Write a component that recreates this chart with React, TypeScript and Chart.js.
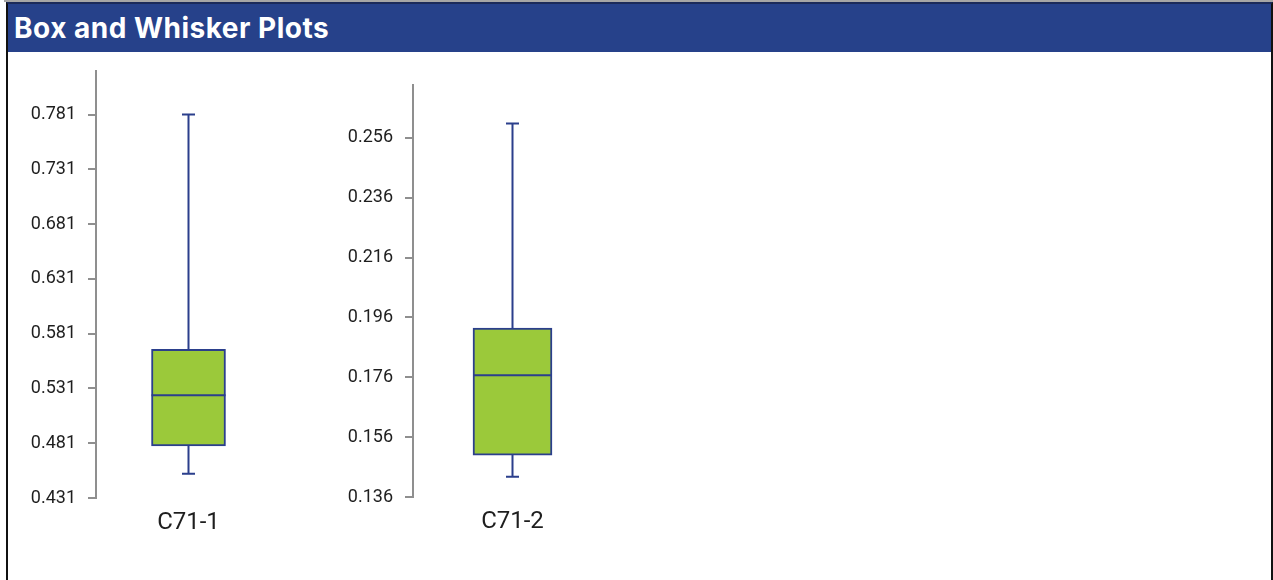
import React, { useEffect, useRef } from 'react';
import { Chart, registerables } from 'chart.js';

Chart.register(...registerables);
Chart.defaults.font.family = 'Roboto, "DejaVu Sans", sans-serif';

// ---- Data: plot 1 ----
const CATEGORIES_1 = ['C71-1'];
const MIN_1 = [0.4531];
const Q1_1 = [0.4786];
const MEDIAN_1 = [0.5248];
const Q3_1 = [0.5667];
const MAX_1 = [0.781];
const TICKS_1 = [0.431, 0.481, 0.531, 0.581, 0.631, 0.681, 0.731, 0.781];
const AXIS_MIN_1 = 0.431;
const AXIS_MAX_1 = 0.821;

// ---- Data: plot 2 ----
const CATEGORIES_2 = ['C71-2'];
const MIN_2 = [0.1428];
const Q1_2 = [0.15];
const MEDIAN_2 = [0.1767];
const Q3_2 = [0.1924];
const MAX_2 = [0.2608];
const TICKS_2 = [0.136, 0.156, 0.176, 0.196, 0.216, 0.236, 0.256];
const AXIS_MIN_2 = 0.136;
const AXIS_MAX_2 = 0.2737;

const TITLE = 'Box and Whisker Plots';

const NAVY = '#2b3f8c';
const GREEN = '#9bc93a';
const AXIS_GRAY = '#8f8f8f';
const TEXT = '#1e1e1e';

const whiskerPlugin = {
  id: 'whiskers',
  afterDatasetsDraw(chart: any, _args: any, opts: any) {
    const { ctx } = chart;
    const y = chart.scales.y;
    const meta = chart.getDatasetMeta(0);
    const s = opts.stats;
    ctx.save();
    ctx.strokeStyle = NAVY;
    ctx.lineWidth = 2;
    s.mins.forEach((mn: number, i: number) => {
      const bar = meta.data[i];
      const cx = bar.x;
      const half = bar.width / 2;
      const cap = 6.5;
      const yMax = y.getPixelForValue(s.maxs[i]);
      const yQ3 = y.getPixelForValue(s.q3s[i]);
      const yQ1 = y.getPixelForValue(s.q1s[i]);
      const yMin = y.getPixelForValue(mn);
      const yMed = y.getPixelForValue(s.medians[i]);
      ctx.beginPath();
      ctx.moveTo(cx, yMax);
      ctx.lineTo(cx, yQ3);
      ctx.moveTo(cx, yQ1);
      ctx.lineTo(cx, yMin);
      ctx.moveTo(cx - cap, yMax);
      ctx.lineTo(cx + cap, yMax);
      ctx.moveTo(cx - cap, yMin);
      ctx.lineTo(cx + cap, yMin);
      ctx.moveTo(cx - half, yMed);
      ctx.lineTo(cx + half, yMed);
      ctx.stroke();
    });
    ctx.restore();
  },
};

type BoxProps = {
  categories: string[];
  mins: number[];
  q1s: number[];
  medians: number[];
  q3s: number[];
  maxs: number[];
  ticks: number[];
  axisMin: number;
  axisMax: number;
  yAxisWidth: number;
  barThickness: number;
  left: number;
  top: number;
  width: number;
  height: number;
};

function BoxPlot(p: BoxProps) {
  const ref = useRef<HTMLCanvasElement | null>(null);
  useEffect(() => {
    if (!ref.current) return;
    const chart = new Chart(ref.current, {
      type: 'bar',
      data: {
        labels: p.categories,
        datasets: [
          {
            data: p.q1s.map((q, i) => [q, p.q3s[i]]) as any,
            backgroundColor: GREEN,
            borderColor: NAVY,
            borderWidth: 2,
            borderSkipped: false,
            barThickness: p.barThickness,
          },
        ],
      },
      options: {
        animation: false,
        responsive: false,
        maintainAspectRatio: false,
        devicePixelRatio: 1,
        layout: { padding: { top: 0, left: 0, right: 0, bottom: 0 } },
        plugins: {
          legend: { display: false },
          tooltip: { enabled: false },
          whiskers: {
            stats: { mins: p.mins, q1s: p.q1s, medians: p.medians, q3s: p.q3s, maxs: p.maxs },
          },
        } as any,
        scales: {
          x: {
            type: 'category',
            offset: true,
            grid: { display: false },
            border: { display: false },
            ticks: { font: { size: 24 }, color: TEXT, padding: 3 },
            afterFit: (s: any) => {
              s.height = 52;
            },
          },
          y: {
            type: 'linear',
            min: p.axisMin,
            max: p.axisMax,
            afterBuildTicks: (s: any) => {
              s.ticks = p.ticks.map((v) => ({ value: v }));
            },
            grid: {
              drawOnChartArea: false,
              drawTicks: true,
              tickLength: 8,
              color: AXIS_GRAY,
              lineWidth: 2,
            },
            border: { display: true, color: AXIS_GRAY, width: 2 },
            ticks: {
              font: { size: 18 },
              color: TEXT,
              padding: 12,
              callback: (v: any) => Number(v).toFixed(3),
            },
            afterFit: (s: any) => {
              s.width = p.yAxisWidth;
            },
          },
        },
      },
      plugins: [whiskerPlugin as any],
    });
    return () => chart.destroy();
  }, []);
  return (
    <canvas
      ref={ref}
      width={p.width}
      height={p.height}
      style={{ position: 'absolute', left: p.left, top: p.top, width: p.width, height: p.height }}
    />
  );
}

export default function App() {
  return (
    <div
      style={{
        position: 'absolute',
        left: 0,
        top: 0,
        width: 1273,
        height: 580,
        overflow: 'hidden',
        background: '#ffffff',
      }}
    >
      <div style={{ position: 'absolute', left: 4, top: 0, width: 1269, height: 2, background: '#a6a6a6' }} />
      <div
        style={{
          position: 'absolute',
          left: 6,
          top: 2,
          width: 1263,
          height: 620,
          borderLeft: '2px solid #111',
          borderRight: '2px solid #111',
          borderTop: '2px solid #1b2a5a',
        }}
      />
      <div
        style={{
          position: 'absolute',
          left: 8,
          top: 4,
          width: 1263,
          height: 48,
          background: '#26418a',
          color: '#ffffff',
          fontFamily: 'Inter, Roboto, "DejaVu Sans", sans-serif',
          fontWeight: 700,
          fontSize: 28,
          letterSpacing: '0.5px',
          lineHeight: '48px',
          paddingLeft: 6,
          boxSizing: 'border-box',
          whiteSpace: 'nowrap',
        }}
      >
        {TITLE}
      </div>
      <BoxPlot
        categories={CATEGORIES_1}
        mins={MIN_1}
        q1s={Q1_1}
        medians={MEDIAN_1}
        q3s={Q3_1}
        maxs={MAX_1}
        ticks={TICKS_1}
        axisMin={AXIS_MIN_1}
        axisMax={AXIS_MAX_1}
        yAxisWidth={96}
        barThickness={74}
        left={0}
        top={48}
        width={281}
        height={502}
      />
      <BoxPlot
        categories={CATEGORIES_2}
        mins={MIN_2}
        q1s={Q1_2}
        medians={MEDIAN_2}
        q3s={Q3_2}
        maxs={MAX_2}
        ticks={TICKS_2}
        axisMin={AXIS_MIN_2}
        axisMax={AXIS_MAX_2}
        yAxisWidth={113}
        barThickness={79}
        left={300}
        top={62}
        width={312}
        height={487}
      />
    </div>
  );
}
